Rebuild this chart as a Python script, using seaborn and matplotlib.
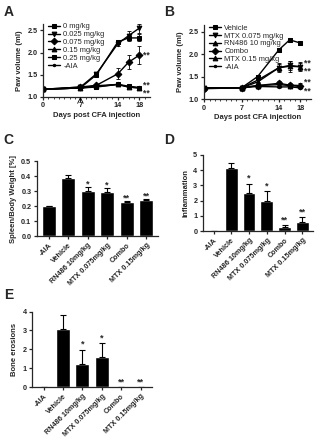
import matplotlib
matplotlib.use("Agg")
import matplotlib.pyplot as plt
import seaborn as sns
import numpy as np
import pandas as pd

sns.set_style("ticks")
plt.rcParams['font.family'] = ['Liberation Sans', 'DejaVu Sans']
plt.rcParams['font.weight'] = 'bold'
plt.rcParams['axes.labelweight'] = 'bold'

# ---------------- data ----------------
days = [0, 7, 10, 14, 16, 18]

A_labels = ["0 mg/kg", "0.025 mg/kg", "0.075 mg/kg", "0.15 mg/kg", "0.25 mg/kg", "-AIA"]
A_0 = [1.17, 1.20, 1.50, 2.24, 2.33, 2.33]
A_0025 = [1.17, 1.22, 1.52, 2.20, 2.38, 2.55]
A_0075 = [1.17, 1.22, 1.26, 1.52, 1.78, 1.94]
A_015 = [1.17, 1.20, 1.25, 1.28, 1.22, 1.20]
A_025 = [1.17, 1.20, 1.23, 1.28, 1.24, 1.21]
A_aia = [1.17, 1.20, 1.22, 1.28, 1.22, 1.20]
A_err_0 = [0.02, 0.02, 0.04, 0.04, 0.08, 0.08]
A_err_0025 = [0.02, 0.02, 0.04, 0.05, 0.10, 0.10]
A_err_0075 = [0.02, 0.02, 0.03, 0.12, 0.16, 0.20]
A_err_015 = [0.02, 0.02, 0.02, 0.03, 0.03, 0.02]
A_err_025 = [0.02, 0.02, 0.02, 0.02, 0.02, 0.02]
A_err_aia = [0.01, 0.01, 0.01, 0.01, 0.01, 0.01]
A_stars = [1.94, 1.27, 1.09]

B_labels = ["Vehicle", "MTX 0.075 mg/kg", "RN486 10 mg/kg", "Combo", "MTX 0.15 mg/kg", "-AIA"]
B_veh = [1.25, 1.25, 1.50, 2.10, 2.32, 2.25]
B_mtx075 = [1.25, 1.25, 1.42, 1.70, 1.75, 1.72]
B_rn = [1.25, 1.25, 1.38, 1.70, 1.73, 1.72]
B_combo = [1.23, 1.25, 1.30, 1.35, 1.31, 1.30]
B_mtx15 = [1.25, 1.25, 1.30, 1.32, 1.30, 1.28]
B_aia = [1.25, 1.25, 1.28, 1.27, 1.27, 1.25]
B_err_veh = [0.02, 0.02, 0.04, 0.04, 0.04, 0.05]
B_err_mtx075 = [0.02, 0.02, 0.04, 0.10, 0.10, 0.10]
B_err_rn = [0.02, 0.02, 0.04, 0.08, 0.12, 0.08]
B_err_combo = [0.02, 0.02, 0.03, 0.05, 0.05, 0.05]
B_err_mtx15 = [0.02, 0.02, 0.03, 0.04, 0.04, 0.03]
B_err_aia = [0.01, 0.01, 0.01, 0.01, 0.01, 0.01]
B_stars = [1.81, 1.63, 1.37, 1.18]

groups = ["-AIA", "Vehicle", "RN486 10mg/kg", "MTX 0.075mg/kg", "Combo", "MTX 0.15mg/kg"]
C_vals = [0.20, 0.385, 0.300, 0.297, 0.227, 0.243]
C_err = [0.002, 0.025, 0.030, 0.025, 0.008, 0.005]
C_sig = ["", "", "*", "*", "**", "**"]
D_vals = [0.0, 4.15, 2.50, 2.00, 0.25, 0.62]
D_err = [0.0, 0.30, 0.62, 0.60, 0.15, 0.28]
D_sig = ["", "", "*", "*", "**", "**"]
E_vals = [0.0, 3.05, 1.25, 1.58, 0.0, 0.0]
E_err = [0.0, 0.78, 0.72, 0.75, 0.0, 0.0]
E_sig = ["", "", "*", "*", "**", "**"]

FS = 5.2
fig = plt.figure(figsize=(3.21, 4.40), dpi=100)

def style_axes(ax):
    sns.despine(ax=ax)
    for s in ax.spines.values():
        s.set_linewidth(0.9)
    ax.tick_params(axis='both', labelsize=FS, width=0.9, length=2.5, pad=1.5)
    for t in ax.get_xticklabels() + ax.get_yticklabels():
        t.set_fontweight('bold')

def line_panel(ax, series, errs, labels, markers, stars, ylabel):
    for vals, err, lab, mk in zip(series, errs, labels, markers):
        sns.lineplot(x=days, y=vals, ax=ax, color='k', marker=mk, markersize=3.4,
                     linewidth=1.0, markeredgecolor='k', label=lab, errorbar=None)
        ax.errorbar(days, vals, yerr=err, fmt='none', ecolor='k', elinewidth=0.6,
                    capsize=1.5, capthick=0.6)
    for y in stars:
        ax.text(18.7, y, "**", fontsize=6.2, fontweight='bold', va='center', ha='left')
    ax.set_xlim(0, 20)
    ax.set_ylim(1.0, 2.65)
    ax.set_xticks([0, 7, 14, 18])
    ax.set_xticks(range(0, 20), minor=True)
    ax.set_yticks([1.0, 1.5, 2.0, 2.5])
    ax.yaxis.set_major_formatter(matplotlib.ticker.FormatStrFormatter('%.1f'))
    ax.tick_params(axis='x', which='minor', length=1.2, width=0.6)
    ax.set_xlabel("Days post CFA injection", fontsize=FS + 0.3, labelpad=2)
    ax.set_ylabel(ylabel, fontsize=FS + 0.3, labelpad=3)
    style_axes(ax)
    leg = ax.legend(loc='upper left', bbox_to_anchor=(0.0, 1.07), frameon=False,
                    fontsize=FS + 0.2, handlelength=1.6, labelspacing=0.08,
                    handletextpad=0.5, borderaxespad=0.2)
    for t in leg.get_texts():
        t.set_fontweight('normal')

# Panel A
axA = fig.add_axes([0.134, 0.78, 0.333, 0.166])
line_panel(axA, [A_0, A_0025, A_0075, A_015, A_025, A_aia],
           [A_err_0, A_err_0025, A_err_0075, A_err_015, A_err_025, A_err_aia],
           A_labels, ['s', 'v', 'D', '^', 's', '.'], A_stars, "Paw volume (ml)")
axA.annotate("", xy=(7, 1.0), xytext=(7, 0.88), xycoords='data',
             arrowprops=dict(arrowstyle='->', lw=0.6, color='k', shrinkA=0, shrinkB=0),
             annotation_clip=False)

# Panel B
axB = fig.add_axes([0.636, 0.775, 0.333, 0.168])
line_panel(axB, [B_veh, B_mtx075, B_rn, B_combo, B_mtx15, B_aia],
           [B_err_veh, B_err_mtx075, B_err_rn, B_err_combo, B_err_mtx15, B_err_aia],
           B_labels, ['s', 'v', '^', 'D', '^', '.'], B_stars, "Paw volume (ml)")

def bar_panel(ax, vals, err, sig, ylim, yticks, ylabel, fmt, star_off):
    df = pd.DataFrame({"group": groups, "value": vals})
    sns.barplot(data=df, x="group", y="value", color='k', width=0.72, ax=ax,
                errorbar=None, saturation=1)
    x = np.arange(len(groups))
    ax.errorbar(x, vals, yerr=[np.zeros(len(err)), err], fmt='none', ecolor='k',
                elinewidth=0.8, capsize=2.5, capthick=0.8)
    for xi, v, e, s in zip(x, vals, err, sig):
        if s:
            ax.text(xi, v + e + star_off, s, ha='center', va='bottom',
                    fontsize=6.5, fontweight='bold')
    ax.set_ylim(*ylim)
    ax.set_yticks(yticks)
    ax.yaxis.set_major_formatter(matplotlib.ticker.FormatStrFormatter(fmt))
    ax.set_xlim(-0.6, 5.6)
    ax.set_xlabel("")
    ax.set_ylabel(ylabel, fontsize=FS + 0.3, labelpad=3)
    style_axes(ax)
    ax.set_xticks(x)
    ax.set_xticklabels(groups, rotation=45, ha='right', rotation_mode='anchor',
                       fontsize=FS, fontweight='bold')

axC = fig.add_axes([0.115, 0.4636, 0.377, 0.17])
bar_panel(axC, C_vals, C_err, C_sig, (0, 0.5), [0.0, 0.1, 0.2, 0.3, 0.4, 0.5],
          "Spleen/Body Weight [%]", '%.1f', -0.012)

axD = fig.add_axes([0.632, 0.475, 0.343, 0.173])
bar_panel(axD, D_vals, D_err, D_sig, (0, 5), [0, 1, 2, 3, 4, 5],
          "Inflammation", '%d', 0.05)

axE = fig.add_axes([0.1, 0.12, 0.374, 0.172])
bar_panel(axE, E_vals, E_err, E_sig, (0, 4), [0, 1, 2, 3, 4],
          "Bone erosions", '%d', 0.05)

for lab, (x, y) in zip("ABCDE", [(0.012, 0.988), (0.512, 0.988), (0.012, 0.698),
                                  (0.512, 0.698), (0.012, 0.345)]):
    fig.text(x, y, lab, fontsize=10, fontweight='bold', ha='left', va='top')

fig.savefig("out.png", dpi=100)
